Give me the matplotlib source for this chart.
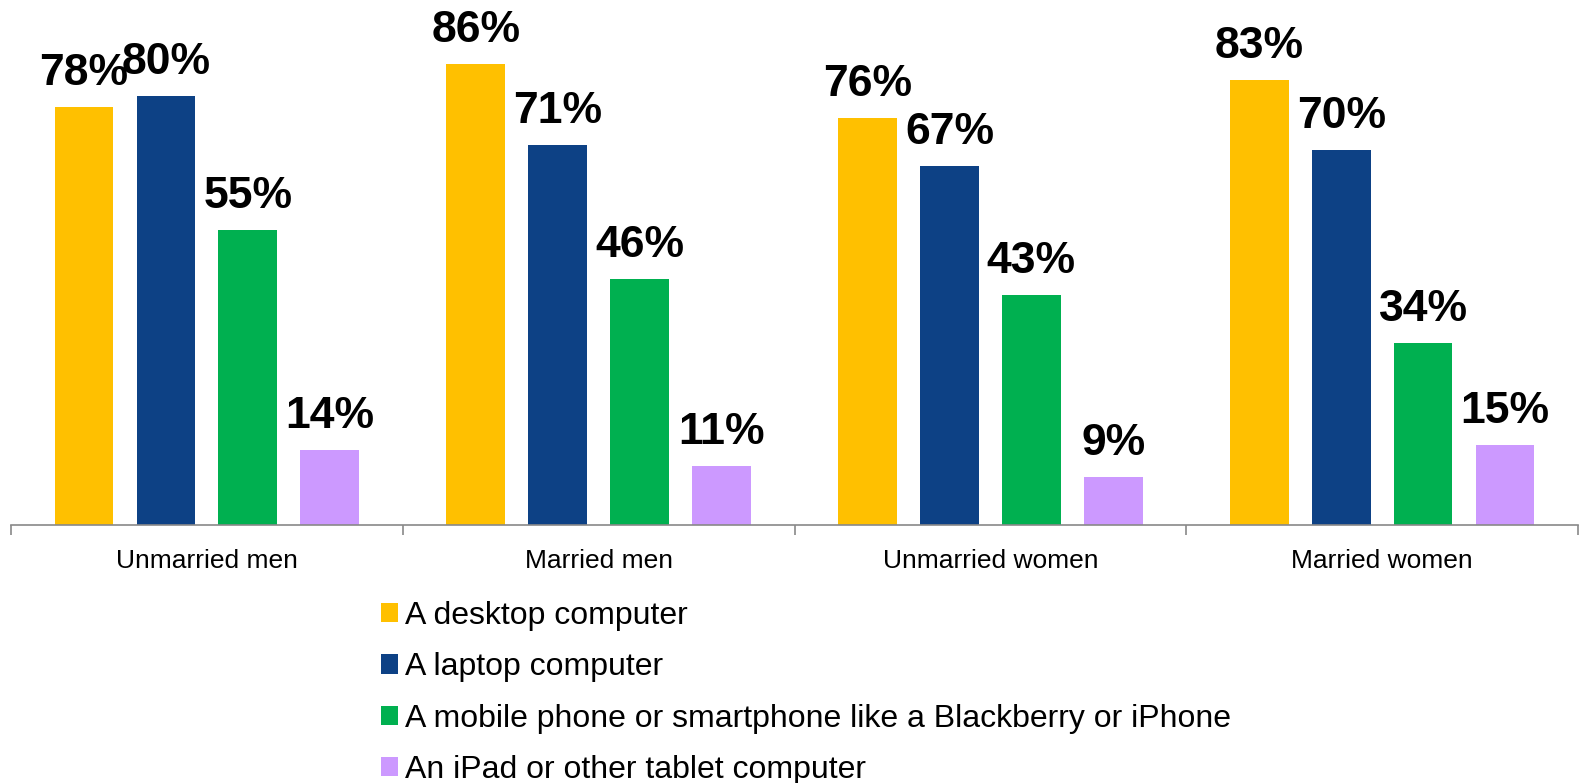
import matplotlib.pyplot as plt
import numpy as np
from matplotlib.patches import Patch

plt.rcParams['font.family'] = ['Liberation Sans', 'DejaVu Sans']

groups = ['Unmarried men', 'Married men', 'Unmarried women', 'Married women']
devices = [
    'A desktop computer',
    'A laptop computer',
    'A mobile phone or smartphone like a Blackberry or iPhone',
    'An iPad or other tablet computer',
]
desktop = [78, 86, 76, 83]
laptop = [80, 71, 67, 70]
mobile = [55, 46, 43, 34]
tablet = [14, 11, 9, 15]
series = [desktop, laptop, mobile, tablet]

colors = ['#FFC000', '#0D4185', '#00B050', '#CC99FF']

fig = plt.figure(figsize=(15.84, 7.83), dpi=100)
ax = fig.add_axes([11/1584, 1 - 525/783, (1578 - 11)/1584, 525/783])

x = np.arange(len(groups))
step = 0.209
width = 0.15
for k, vals in enumerate(series):
    pos = x + (k - 1.5) * step
    ax.bar(pos, vals, width=width, color=colors[k], label=devices[k])
    for p, v in zip(pos, vals):
        ax.annotate(f'{v}%', (p, v), xytext=(0, 13), textcoords='offset pixels',
                    ha='center', va='bottom', fontsize=32, fontweight='bold')

ax.set_xlim(-0.5, 3.5)
ax.set_ylim(0, 98)
for s in ['left', 'right', 'top']:
    ax.spines[s].set_visible(False)
ax.spines['bottom'].set_color('#898989')
ax.spines['bottom'].set_linewidth(1.2)
ax.set_yticks([])
ax.set_xticks(np.arange(-0.5, 4, 1))
ax.set_xticklabels([])
ax.tick_params(axis='x', which='major', length=7, color='#898989', width=1.2)
ax.set_xticks(x, minor=True)
ax.set_xticklabels(groups, minor=True, fontsize=19)
ax.tick_params(axis='x', which='minor', length=0, pad=17)

handles = [Patch(facecolor=c) for c in colors]
fig.legend(handles, devices, loc='upper left', bbox_to_anchor=(368/1584, 1 - 588/783),
           frameon=False, fontsize=23, handlelength=0.55, handleheight=0.55,
           handletextpad=0.2, labelspacing=0.67, borderaxespad=0)

fig.savefig('out.png', dpi=100)
